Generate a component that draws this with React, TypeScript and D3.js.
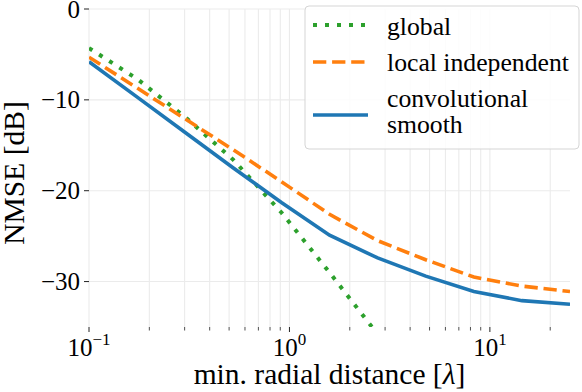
import React from "react";
import * as d3 from "d3";

// sample positions (log spaced) and NMSE values in dB
const distances = [0.1, 0.174, 0.302, 0.525, 0.912, 1.585, 2.754, 4.786, 8.318, 14.45, 25.1];
const globalNmse = [-4.3, -7.7, -11.9, -16.6, -22.4, -29.0, -35.8];
const localNmse = [-5.3, -8.7, -12.1, -15.5, -19.0, -22.6, -25.5, -27.6, -29.5, -30.5, -31.1];
const convNmse = [-5.8, -9.7, -13.6, -17.5, -21.3, -24.9, -27.4, -29.4, -31.1, -32.1, -32.5];

const yTicks = [0, -10, -20, -30];
const xMajor = [0.1, 1, 10];
const xMajorExp = ["\u22121", "0", "1"];
const xMinor = [0.2, 0.3, 0.4, 0.5, 0.6, 0.7, 0.8, 0.9, 2, 3, 4, 5, 6, 7, 8, 9, 20];

const seriesNames = ["global", "local independent", "convolutional smooth"];

const W = 582, H = 392;
const FONT = "'Liberation Serif', 'Times New Roman', serif";

export default function App() {
  const margin = { left: 89, right: 12, top: 9, bottom: 65 };
  const x = d3.scaleLog().domain([0.1, 25.1]).range([margin.left, W - margin.right]);
  const y = d3.scaleLinear().domain([-35, 0]).range([H - margin.bottom, margin.top]);
  const [x0, x1] = x.range();
  const [yb, yt] = y.range();

  const line = d3.line<number>()
    .x((_, i) => x(distances[i]))
    .y((d) => y(d));

  const series = [
    { name: seriesNames[0], values: globalNmse, color: "#2ca02c", dash: "4,8", w: 4 },
    { name: seriesNames[1], values: localNmse, color: "#ff7f0e", dash: "13.3,5.8", w: 3.6 },
    { name: seriesNames[2], values: convNmse, color: "#1f77b4", dash: null, w: 3.6 },
  ];

  const grid = "#ebebeb";

  return (
    <svg width={W} height={H} style={{ position: "absolute", left: 0, top: 0 }}>
      <defs>
        <clipPath id="plot">
          <rect x={x0} y={yt} width={x1 - x0} height={yb - yt} />
        </clipPath>
      </defs>
      <rect width={W} height={H} fill="#fff" />
      {/* grid */}
      {xMinor.concat(xMajor).map((t) => (
        <line key={"gx" + t} x1={x(t)} x2={x(t)} y1={yt} y2={yb} stroke={grid} strokeWidth={1.1} />
      ))}
      {yTicks.map((t) => (
        <line key={"gy" + t} x1={x0} x2={x1} y1={y(t)} y2={y(t)} stroke={grid} strokeWidth={1.1} />
      ))}
      {/* lines */}
      <g clipPath="url(#plot)">
        {series.map((s) => (
          <path key={s.name} d={line(s.values) || ""} fill="none" stroke={s.color}
            strokeWidth={s.w} strokeDasharray={s.dash || undefined} />
        ))}
      </g>
      <g style={{ fontFamily: FONT }} fill="#000">
        {/* y axis */}
        {yTicks.map((t) => (
          <g key={"yt" + t}>
            <line x1={x0 - 5} x2={x0} y1={y(t)} y2={y(t)} stroke="#222" strokeWidth={1} />
            <text x={x0 - 9} y={y(t)} dy="0.34em" textAnchor="end" fontSize={25}>
              {t === 0 ? "0" : "\u2212" + Math.abs(t)}
            </text>
          </g>
        ))}
        {/* x axis */}
        {xMinor.map((t) => (
          <line key={"xm" + t} x1={x(t)} x2={x(t)} y1={yb} y2={yb + 3.5} stroke="#222" strokeWidth={0.8} />
        ))}
        {xMajor.map((t, i) => (
          <g key={"xt" + t}>
            <line x1={x(t)} x2={x(t)} y1={yb} y2={yb + 5} stroke="#222" strokeWidth={1} />
            <text x={x(t)} y={356} textAnchor="middle" fontSize={25}>
              10<tspan fontSize={17} dy={-11}>{xMajorExp[i]}</tspan>
            </text>
          </g>
        ))}
        <text x={(x0 + x1) / 2} y={384} textAnchor="middle" fontSize={29.5}>
          min. radial distance [<tspan fontStyle="italic">λ</tspan>]
        </text>
        <text transform={`translate(24,173) rotate(-90)`} textAnchor="middle" fontSize={29.5}>
          NMSE [dB]
        </text>
        {/* legend */}
        <rect x={305} y={6} width={274} height={143} rx={4} fill="#fff" fillOpacity={0.85}
          stroke="#d5d5d5" strokeWidth={1} />
        {series.map((s, i) => {
          const ly = [25, 62, 115][i];
          return (
            <line key={"lg" + i} x1={313} x2={368} y1={ly} y2={ly} stroke={s.color}
              strokeWidth={s.w} strokeDasharray={s.dash || undefined} />
          );
        })}
        <text x={387} y={35} fontSize={25.7}>{seriesNames[0]}</text>
        <text x={387} y={71} fontSize={25.7}>{seriesNames[1]}</text>
        <text x={387} y={107} fontSize={25.7}>{seriesNames[2].split(" ")[0]}</text>
        <text x={387} y={133} fontSize={25.7}>{seriesNames[2].split(" ")[1]}</text>
      </g>
    </svg>
  );
}
